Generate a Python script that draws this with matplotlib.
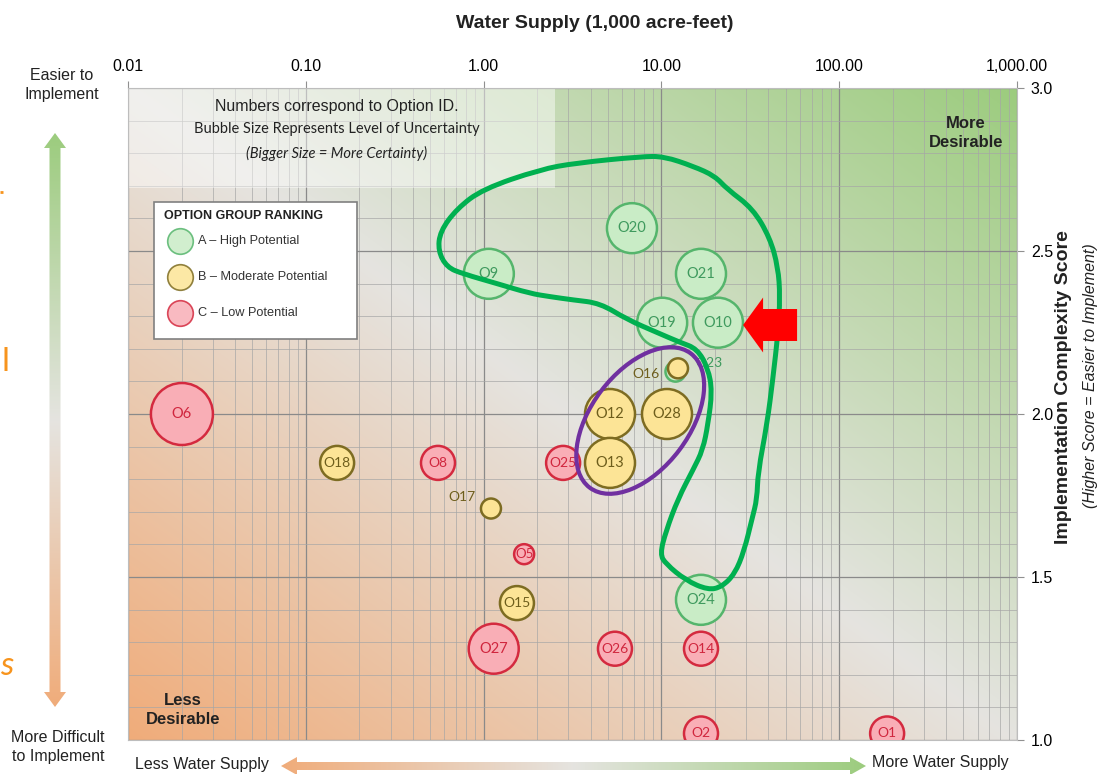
import numpy as np
import matplotlib.pyplot as plt
from matplotlib.patches import Polygon, Ellipse, Rectangle, PathPatch
from matplotlib.path import Path
from matplotlib.transforms import ScaledTranslation
from matplotlib.ticker import FixedLocator, LogLocator, NullFormatter, MultipleLocator

W, H = 1109, 774

NARROW = ['Liberation Sans Narrow', 'Liberation Sans', 'DejaVu Sans']
ARIAL = ['Liberation Sans', 'DejaVu Sans']
CALIBRI = ['Lato', 'DejaVu Sans']

# --- data ---
options = ['O23', 'O9', 'O20', 'O21', 'O19', 'O10', 'O24',
           'O16', 'O12', 'O28', 'O13', 'O18', 'O17', 'O15',
           'O6', 'O8', 'O25', 'O5', 'O27', 'O26', 'O14', 'O2', 'O1']
group = ['A', 'A', 'A', 'A', 'A', 'A', 'A',
         'B', 'B', 'B', 'B', 'B', 'B', 'B',
         'C', 'C', 'C', 'C', 'C', 'C', 'C', 'C', 'C']
supply = [12.0, 1.07, 6.83, 16.7, 10.1, 20.8, 16.7,
          12.4, 5.14, 10.75, 5.14, 0.150, 1.10, 1.54,
          0.0201, 0.554, 2.80, 1.69, 1.14, 5.48, 16.7, 16.7, 186.0]
score = [2.13, 2.43, 2.57, 2.43, 2.28, 2.28, 1.43,
         2.14, 2.00, 2.00, 1.85, 1.85, 1.71, 1.42,
         2.00, 1.85, 1.85, 1.57, 1.28, 1.28, 1.28, 1.02, 1.02]
certainty = [1, 3, 3, 3, 3, 3, 3,
             1, 3, 3, 3, 2, 1, 2,
             4, 2, 2, 1, 3, 2, 2, 2, 2]

group_names = ['A \u2013 High Potential', 'B \u2013 Moderate Potential', 'C \u2013 Low Potential']

x_ticks = [0.01, 0.1, 1, 10, 100, 1000]
x_tick_labels = ['0.01', '0.10', '1.00', '10.00', '100.00', '1,000.00']
y_ticks = [1.0, 1.5, 2.0, 2.5, 3.0]
y_tick_labels = ['1.0', '1.5', '2.0', '2.5', '3.0']

# hand-drawn green loop (water supply, score)
loop_x = [0.622, 0.766, 1.19, 1.82, 2.36, 3.18, 4.52, 6.41, 9.45, 12.7, 15.9, 18.3,
          19.3, 18.3, 17.1, 15.1, 12.4, 10.6, 9.82, 10.6, 13.7, 18.3, 21.9, 25.9,
          29.2, 32.4, 34.5, 34.9, 39.3, 42.4, 45.3, 46.5, 45.3, 40.8, 32.7, 23.4,
          20.0, 15.1, 10.35, 7.78, 3.31, 2.08, 0.99, 0.708, 0.569, 0.555]
loop_y = [2.45, 2.43, 2.40, 2.37, 2.36, 2.35, 2.34, 2.29, 2.25, 2.22, 2.20, 2.14,
          2.07, 1.97, 1.89, 1.83, 1.74, 1.64, 1.57, 1.54, 1.49, 1.46, 1.47, 1.51,
          1.58, 1.68, 1.74, 1.82, 1.97, 2.11, 2.25, 2.36, 2.45, 2.54, 2.63, 2.69,
          2.73, 2.76, 2.79, 2.79, 2.77, 2.75, 2.69, 2.63, 2.56, 2.50]

ellipse_center = (7.6, 1.98)
red_arrow_tip = (28.8, 2.273)

# --- styles ---
fills = {'A': '#c9ecc6', 'B': '#fce496', 'C': '#f9aeb6'}
edges = {'A': '#55b56c', 'B': '#7d6c22', 'C': '#d42a3f'}
text_cols = {'A': '#3f9a5e', 'B': '#6e5e1c', 'C': '#d0263e'}
radius_px = {1: 10, 2: 17, 3: 25, 4: 31}
label_off = {'O16': (-13, -4, 'right'), 'O23': (14, 6, 'left'), 'O17': (-11, 8, 'right')}

ORANGE = (240, 172, 122)
GREY = (229, 228, 224)
GREEN = (156, 204, 126)

rect = [128 / W, 1 - 740 / H, 889 / W, 652 / H]
fig = plt.figure(figsize=(W / 100, H / 100), dpi=100)

# background gradient
bg = fig.add_axes(rect, zorder=0)
bg.axis('off')
gx = np.linspace(0, 1, 400)
gy = np.linspace(0, 1, 300)
t = (gx[None, :] + gy[:, None]) / 2
stops = np.array([ORANGE, GREY, GREEN]) / 255
img = np.stack([np.interp(t, [0, 0.5, 1], stops[:, k]) for k in range(3)], axis=-1)
bg.imshow(img, extent=(0, 1, 0, 1), origin='lower', aspect='auto')
bg.set_xlim(0, 1)
bg.set_ylim(0, 1)

ax = fig.add_axes(rect, zorder=1)
ax.set_facecolor('none')
ax.set_xscale('log')
ax.set_xlim(0.01, 1000)
ax.set_ylim(1, 3)
ax.set_axisbelow(True)

ax.xaxis.set_major_locator(FixedLocator(x_ticks))
ax.xaxis.set_minor_locator(LogLocator(base=10, subs=np.arange(2, 10), numticks=50))
ax.xaxis.set_minor_formatter(NullFormatter())
ax.set_xticks(x_ticks, x_tick_labels)
ax.set_yticks(y_ticks, y_tick_labels)
ax.yaxis.set_minor_locator(MultipleLocator(0.1))
ax.grid(True, which='major', color='#8a8a8a', lw=0.9)
ax.grid(True, which='minor', color='#a6a6a6', lw=0.6, alpha=0.8)
ax.tick_params(axis='x', which='major', top=True, bottom=False, labeltop=True,
               labelbottom=False, length=5, color='#909090', pad=5, labelsize=11.5)
ax.tick_params(axis='y', which='major', right=True, left=False, labelright=True,
               labelleft=False, length=5, color='#909090', pad=5, labelsize=11.5)
ax.tick_params(which='minor', length=0)
for lab in ax.get_xticklabels() + ax.get_yticklabels():
    lab.set_family(NARROW)
for sp in ax.spines.values():
    sp.set_color('#bdbdbd')
    sp.set_linewidth(0.8)

# note box
ax.add_patch(Rectangle((0, 0.847), 0.48, 0.153, transform=ax.transAxes,
                       facecolor='white', alpha=0.45, edgecolor='none', zorder=1.5))
ax.text(0.235, 0.972, 'Numbers correspond to Option ID.', transform=ax.transAxes,
        ha='center', va='center', fontsize=11.5, family=NARROW, color='#222222')
ax.text(0.235, 0.937, 'Bubble Size Represents Level of Uncertainty', transform=ax.transAxes,
        ha='center', va='center', fontsize=10.5, family=CALIBRI, color='#222222')
ax.text(0.235, 0.900, '(Bigger Size = More Certainty)', transform=ax.transAxes,
        ha='center', va='center', fontsize=10.5, family=CALIBRI, style='italic', color='#222222')

# bubbles
for g in ['A', 'B', 'C']:
    idx = [i for i in range(len(options)) if group[i] == g]
    xs = [supply[i] for i in idx]
    ys = [score[i] for i in idx]
    ss = [(2 * radius_px[certainty[i]] * 0.72) ** 2 for i in idx]
    ax.scatter(xs, ys, s=ss, c=fills[g], edgecolors=edges[g], linewidths=1.8, zorder=3)
    for i in idx:
        name = options[i]
        fs = 10.5 if certainty[i] >= 3 else (10 if certainty[i] == 2 else 9.5)
        if name in label_off:
            dx, dy, ha = label_off[name]
            ax.annotate(name, (supply[i], score[i]), xytext=(dx, dy), textcoords='offset points',
                        ha=ha, va='center', fontsize=10, family=CALIBRI, color=text_cols[g], zorder=4)
        else:
            ax.annotate(name, (supply[i], score[i]), ha='center', va='center', fontsize=fs,
                        family=CALIBRI, color=text_cols[g], zorder=4, annotation_clip=True)

# hand drawn loop, smoothed as a closed quadratic Bezier through the sketch points
lx = np.log10(loop_x)
ly = np.array(loop_y)
mx = (lx + np.roll(lx, -1)) / 2
my = (ly + np.roll(ly, -1)) / 2
verts = [(10 ** mx[-1], my[-1])]
codes = [Path.MOVETO]
for i in range(len(lx)):
    verts += [(10 ** lx[i], ly[i]), (10 ** mx[i], my[i])]
    codes += [Path.CURVE3, Path.CURVE3]
ax.add_patch(PathPatch(Path(verts, codes), fill=False, ec='#00b050', lw=3.6,
                       joinstyle='round', zorder=6))

ell_tr = fig.dpi_scale_trans + ScaledTranslation(*ellipse_center, ax.transData)
ax.add_patch(Ellipse((0, 0), 1.68, 0.98, angle=53, transform=ell_tr, fill=False,
                     ec='#7030a0', lw=3.0, zorder=5))
arr_tr = fig.dpi_scale_trans + ScaledTranslation(*red_arrow_tip, ax.transData)
arr = [(0, 0), (0.20, 0.275), (0.20, 0.16), (0.54, 0.16), (0.54, -0.16),
       (0.20, -0.16), (0.20, -0.275)]
ax.add_patch(Polygon(arr, closed=True, transform=arr_tr, fc='#ff0000', ec='none',
                     zorder=7, clip_on=False))

# overlay in pixel coordinates
ov = fig.add_axes([0, 0, 1, 1], zorder=5)
ov.axis('off')


def gradient_arrow(verts, extent, colors, vertical):
    tt = np.linspace(0, 1, 256)
    cs = np.array(colors) / 255
    pos = np.linspace(0, 1, len(colors))
    rgb = np.stack([np.interp(tt, pos, cs[:, k]) for k in range(3)], axis=-1)
    grad = rgb[:, None, :] if vertical else rgb[None, :, :]
    im = ov.imshow(grad, extent=extent, origin='upper', aspect='auto', zorder=1)
    poly = Polygon(verts, closed=True, transform=ov.transData, fc='none', ec='none')
    ov.add_patch(poly)
    im.set_clip_path(poly)


gradient_arrow([(55, 133), (66, 148), (60.5, 148), (60.5, 692), (66, 692), (55, 707),
                (44, 692), (49.5, 692), (49.5, 148), (44, 148)],
               (43, 67, 708, 133), [GREEN, GREY, ORANGE], True)
gradient_arrow([(281, 766), (297, 757), (297, 762), (850, 762), (850, 757), (866, 766),
                (850, 775), (850, 770), (297, 770), (297, 775)],
               (280, 867, 775, 757), [ORANGE, GREY, GREEN], False)

# legend
ov.add_patch(Rectangle((154, 202), 203, 137, fc='white', ec='#808080', lw=1.2, zorder=2))
ov.text(164, 216, 'OPTION GROUP RANKING', fontsize=9, weight='bold', family=NARROW,
        va='center', color='#222222', zorder=3)
for g, name, yy in zip(['A', 'B', 'C'], group_names, [241, 277, 313]):
    ov.scatter([180], [yy], s=(2 * 12.8 * 0.72) ** 2, c=fills[g], edgecolors=edges[g],
               linewidths=1.2, alpha=0.85, zorder=3)
    ov.text(198, yy, name, fontsize=9.2, family=NARROW, va='center', color='#333333', zorder=3)

txt = dict(ha='center', va='center', color='#222222')
ov.text(595, 23, 'Water Supply (1,000 acre-feet)', fontsize=14, weight='bold', family=NARROW, **txt)
ov.text(62, 85, 'Easier to\nImplement', fontsize=11.5, family=NARROW, linespacing=1.35, **txt)
ov.text(58, 747, 'More Difficult\nto Implement', fontsize=11.5, family=NARROW, linespacing=1.35, **txt)
ov.text(202, 764, 'Less Water Supply', fontsize=11.5, family=NARROW, **txt)
ov.text(940, 763, 'More Water Supply', fontsize=11.5, family=NARROW, **txt)
ov.text(966, 133, 'More\nDesirable', fontsize=12, weight='bold', family=ARIAL, linespacing=1.3, **txt)
ov.text(183, 710, 'Less\nDesirable', fontsize=12, weight='bold', family=ARIAL, linespacing=1.3, **txt)
ov.text(1063, 387, 'Implementation Complexity Score', rotation=90, fontsize=14,
        weight='bold', family=NARROW, **txt)
ov.text(1090, 376, '(Higher Score = Easier to Implement)', rotation=90, fontsize=11.5,
        style='italic', family=NARROW, **txt)

# clipped slide fragments at the left edge
ov.plot([0, 3], [192, 192], color='#f7941d', lw=2, solid_capstyle='butt')
ov.text(9, 362, 'l', fontsize=24, color='#f7941d', ha='right', va='center', family=CALIBRI)
ov.text(13, 666, 's', fontsize=24, color='#f7941d', ha='right', va='center', style='italic',
        family=CALIBRI)

ov.set_xlim(0, W)
ov.set_ylim(H, 0)

fig.savefig('out.png', dpi=100)
